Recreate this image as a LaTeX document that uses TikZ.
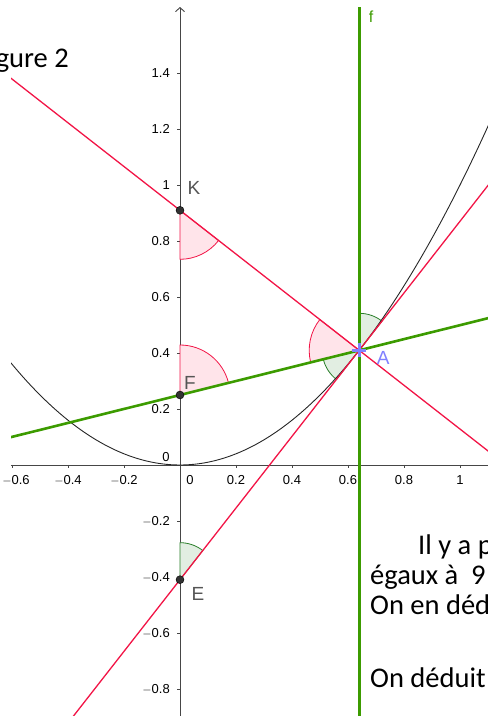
\documentclass[tikz,border=0pt]{standalone}
\usepackage{fontspec}
\setmainfont{Liberation Sans}
\newfontfamily\calfont{Carlito}
\usetikzlibrary{arrows.meta,calc}
\definecolor{ggred}{RGB}{242,20,70}
\definecolor{gggreen}{RGB}{60,155,0}
\definecolor{ggaxis}{RGB}{70,70,70}
\definecolor{pinkfill}{RGB}{255,228,234}
\definecolor{greenfill}{RGB}{226,238,226}
\definecolor{angreen}{RGB}{40,125,40}
\definecolor{ptblue}{RGB}{128,128,255}
\definecolor{labgray}{RGB}{85,85,85}
\definecolor{ptdark}{RGB}{50,50,50}
\tikzset{
  axisline/.style={draw=ggaxis, line width=0.9pt},
  ticklab/.style={font=\fontsize{13}{15}\selectfont, text=black, inner sep=0pt},
  redline/.style={draw=ggred, line width=1.3pt},
  greenline/.style={draw=gggreen, line width=2.6pt},
  parab/.style={draw=black!85, line width=0.9pt},
  pinkang/.style={fill=pinkfill, draw=ggred, line width=0.8pt},
  greenang/.style={fill=greenfill, draw=angreen, line width=0.8pt},
  ptdot/.style={circle, fill=ptdark, draw=black, line width=0.4pt, minimum size=8pt, inner sep=0pt},
  ptlab/.style={font=\fontsize{19}{22}\selectfont, text=labgray, inner sep=0pt},
  ptcross/.style={draw=ptblue, line width=2.6pt},
  bodytext/.style={font=\calfont\fontsize{28.5}{30}\selectfont, inner sep=0pt, anchor=base west}
}
\begin{document}
\begin{tikzpicture}[x=1pt,y=1pt]
\useasboundingbox (0,0) rectangle (488,716);
\begin{scope}
\clip (11,0) rectangle (488,716);
\begin{scope}[shift={(180,251)}, x=280pt, y=280pt]
  % axes
  \draw[axisline] (-0.62,0) -- (1.12,0);
  \coordinate (ybot) at (0,-0.92);
  \coordinate (ytop) at (0,1.6357);
  \draw[axisline, -{Straight Barb[length=4pt,width=9pt]}] (ybot) -- (ytop);
  \foreach \t in {-0.6,-0.4,-0.2,0.2,0.4,0.6,0.8,1}
    \draw[axisline] (\t,0) -- ++(0,-3.5pt);
  \foreach \t in {-0.8,-0.6,-0.4,-0.2,0.2,0.4,0.6,0.8,1,1.2,1.4}
    \draw[axisline] (0,\t) -- ++(-3.5pt,0);
  % points
  \coordinate (A) at (0.64,0.4096);
  \coordinate (Fc) at (0,0.25);
  \coordinate (Kc) at (0,0.9096);
  \coordinate (Ec) at (0,-0.4096);
  % angles
  \path[pinkang] (Kc) -- ++(-38:49pt) arc[start angle=-38, end angle=-90, radius=49pt] -- cycle;
  \path[pinkang] (Fc) -- ++(14:50pt) arc[start angle=14, end angle=90, radius=50pt] -- cycle;
  \path[pinkang] (A) -- ++(142:50pt) arc[start angle=142, end angle=194, radius=50pt] -- cycle;
  \path[greenang] (A) -- ++(52:37pt) arc[start angle=52, end angle=90, radius=37pt] -- cycle;
  \path[greenang] (A) -- ++(194:37pt) arc[start angle=194, end angle=232, radius=37pt] -- cycle;
  \path[greenang] (Ec) -- ++(52:37pt) arc[start angle=52, end angle=90, radius=37pt] -- cycle;
  % parabola
  \draw[parab] plot[domain=-0.62:1.12, samples=120] (\x, {\x*\x});
  % lines
  \draw[redline] ($(Ec)!-0.7!(A)$) -- ($(Ec)!1.8!(A)$);
  \draw[redline] ($(Kc)!-1!(A)$) -- ($(Kc)!1.8!(A)$);
  \draw[greenline] ($(Fc)!-1!(A)$) -- ($(Fc)!1.8!(A)$);
  \coordinate (fbot) at (0.64,-0.92);
  \coordinate (ftop) at (0.64,1.6357);
  \draw[greenline] (fbot) -- (ftop);
  \node[font=\fontsize{16}{18}\selectfont, text=gggreen, inner sep=0pt] (flab) at ($(ftop)+(12pt,-10pt)$) {f};
  % point markers
  \node[ptdot] (K) at (Kc) {};
  \node[ptdot] (F) at (Fc) {};
  \node[ptdot] (E) at (Ec) {};
  \draw[ptcross] ([xshift=-7pt]A) -- ([xshift=7pt]A);
  \draw[ptcross] ([yshift=-7pt]A) -- ([yshift=7pt]A);
  \node[ptlab] (Klab) at ($(K)+(14pt,22pt)$) {K};
  \node[ptlab] (Flab) at ($(F)+(10pt,12pt)$) {F};
  \node[ptlab] (Elab) at ($(E)+(18pt,-14pt)$) {E};
  \node[ptlab, text=ptblue] (Alab) at ($(A)+(24pt,-8pt)$) {A};
\end{scope}
\end{scope}
% tick labels
\begin{scope}[shift={(180,251)}, x=280pt, y=280pt]
  \foreach \t/\s in {-0.8/$-$0.8,-0.6/$-$0.6,-0.4/$-$0.4,-0.2/$-$0.2,0.2/0.2,0.4/0.4,0.6/0.6,0.8/0.8,1/1,1.2/1.2,1.4/1.4}
    \node[ticklab, anchor=east] at ([xshift=-10pt]0,\t) {\s};
  \foreach \t/\s in {-0.4/$-$0.4,-0.2/$-$0.2,0.2/0.2,0.4/0.4,0.6/0.6,0.8/0.8,1/1}
    \node[ticklab, anchor=north] at ([yshift=-10pt]\t,0) {\s};
  \node[ticklab, anchor=north] (m06) at ([xshift=4pt,yshift=-10pt]-0.6,0) {$-$0.6};
  \node[ticklab] (o1) at ([xshift=-14pt,yshift=8pt]0,0) {0};
  \node[ticklab] (o2) at ([xshift=10pt,yshift=-15pt]0,0) {0};
\end{scope}
% text
\node[bodytext, anchor=base east] (fig) at (69,648) {Figure 2};
\node[bodytext] (t1) at (418,161) {Il y a p};
\node[bodytext] (t2) at (370,131) {égaux à\ \ 9};
\node[bodytext] (t3) at (370,101) {On en déd};
\node[bodytext] (t4) at (370,28) {On déduit};
\end{tikzpicture}
\end{document}
